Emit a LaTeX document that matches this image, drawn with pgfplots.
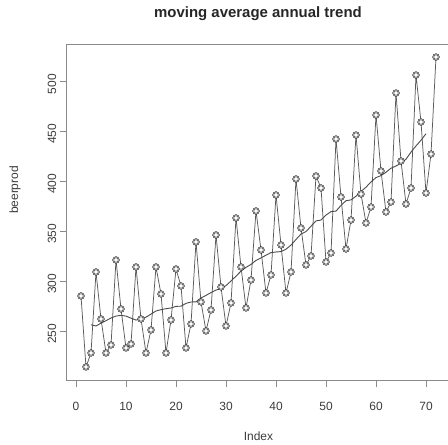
\documentclass[border=0pt]{standalone}
\usepackage{pgfplots}
\pgfplotsset{compat=1.18}
\usepackage{pgfplotstable}
\usepackage{fontspec}
\setmainfont{Liberation Sans}
\definecolor{serie}{HTML}{5A5A5A}
\definecolor{trendc}{HTML}{4A4A4A}
\definecolor{boxc}{HTML}{8A8A8A}
\definecolor{txt}{HTML}{3C3C3C}
\pgfplotstableread{
idx val
1 285
2 214
3 228
4 309
5 262
6 228
7 236
8 321
9 272
10 233
11 237
12 314
13 262
14 228
15 251
16 314
17 287
18 228
19 261
20 312
21 295
22 233
23 257
24 339
25 279
26 250
27 271
28 346
29 294
30 255
31 278
32 363
33 314
34 273
35 301
36 370
37 331
38 288
39 306
40 386
41 336
42 288
43 309
44 402
45 353
46 316
47 325
48 405
49 393
50 319
51 328
52 442
53 384
54 332
55 361
56 446
57 387
58 358
59 374
60 466
61 410
62 369
63 379
64 488
65 420
66 377
67 393
68 506
69 459
70 388
71 427
72 524
}\beer
\pgfplotstableread{
idx ma
3 256.1
4 255.0
5 257.8
6 260.3
7 263.0
8 264.9
9 265.6
10 264.9
11 262.8
12 260.9
13 262.0
14 263.8
15 266.9
16 270.0
17 271.3
18 272.3
19 273.0
20 274.6
21 274.8
22 277.6
23 279.0
24 279.1
25 283.0
26 285.6
27 288.4
28 290.9
29 292.4
30 295.4
31 300.0
32 304.8
33 309.9
34 313.6
35 316.6
36 320.6
37 323.1
38 325.8
39 328.4
40 329.0
41 329.4
42 331.8
43 335.9
44 341.5
45 347.0
46 349.4
47 354.8
48 360.1
49 360.9
50 365.9
51 369.4
52 369.9
53 375.6
54 380.3
55 381.1
56 384.8
57 389.6
58 393.8
59 399.1
60 403.4
61 405.4
62 408.8
63 412.8
64 415.0
65 417.8
66 421.8
67 428.9
68 435.1
69 440.8
70 447.3
}\trend
\begin{document}
\begin{tikzpicture}
\begin{axis}[
  scale only axis,
  width=383.4bp, height=335.8bp,
  anchor=south west, at={(66.8bp,64.6bp)},
  xmin=-1.84, xmax=74.84, ymin=200.56, ymax=536.44,
  xtick={0,10,...,70}, ytick={250,300,...,500},
  xtick pos=bottom, ytick pos=left,
  tick align=outside, major tick length=7bp,
  tick style={color=boxc, line width=0.9bp},
  axis line style={boxc, line width=1bp},
  /pgf/number format/assume math mode=true,
  ticklabel style={font=\fontsize{12}{14}\selectfont, text=txt},
  xticklabel style={anchor=north, yshift=-11bp},
  yticklabel style={rotate=90, anchor=south, xshift=-3bp},
]
\addplot[color=serie, line width=0.75bp, mark=none] table[x=idx, y=val] {\beer};
\addplot[draw=none, only marks, mark=*, mark size=3.4bp, mark options={fill=white, draw=none}] table[x=idx, y=val] {\beer};
\addplot[draw=none, only marks, mark=o, mark size=2.3bp, mark options={draw=serie, line width=0.7bp, fill=white}] table[x=idx, y=val] {\beer};
\addplot[color=trendc, line width=0.9bp, mark=none] table[x=idx, y=ma] {\trend};
\end{axis}
\node[font=\fontsize{15}{18}\selectfont\bfseries, text=black!85] at (258bp,431bp) {moving average annual trend};
\node[font=\fontsize{12}{14}\selectfont, text=txt] at (258.5bp,9bp) {Index};
\node[font=\fontsize{12}{14}\selectfont, text=txt, rotate=90] at (15bp,255bp) {beerprod};
\pgfresetboundingbox
\useasboundingbox (0,0) rectangle (448bp,445bp);
\end{tikzpicture}
\end{document}
